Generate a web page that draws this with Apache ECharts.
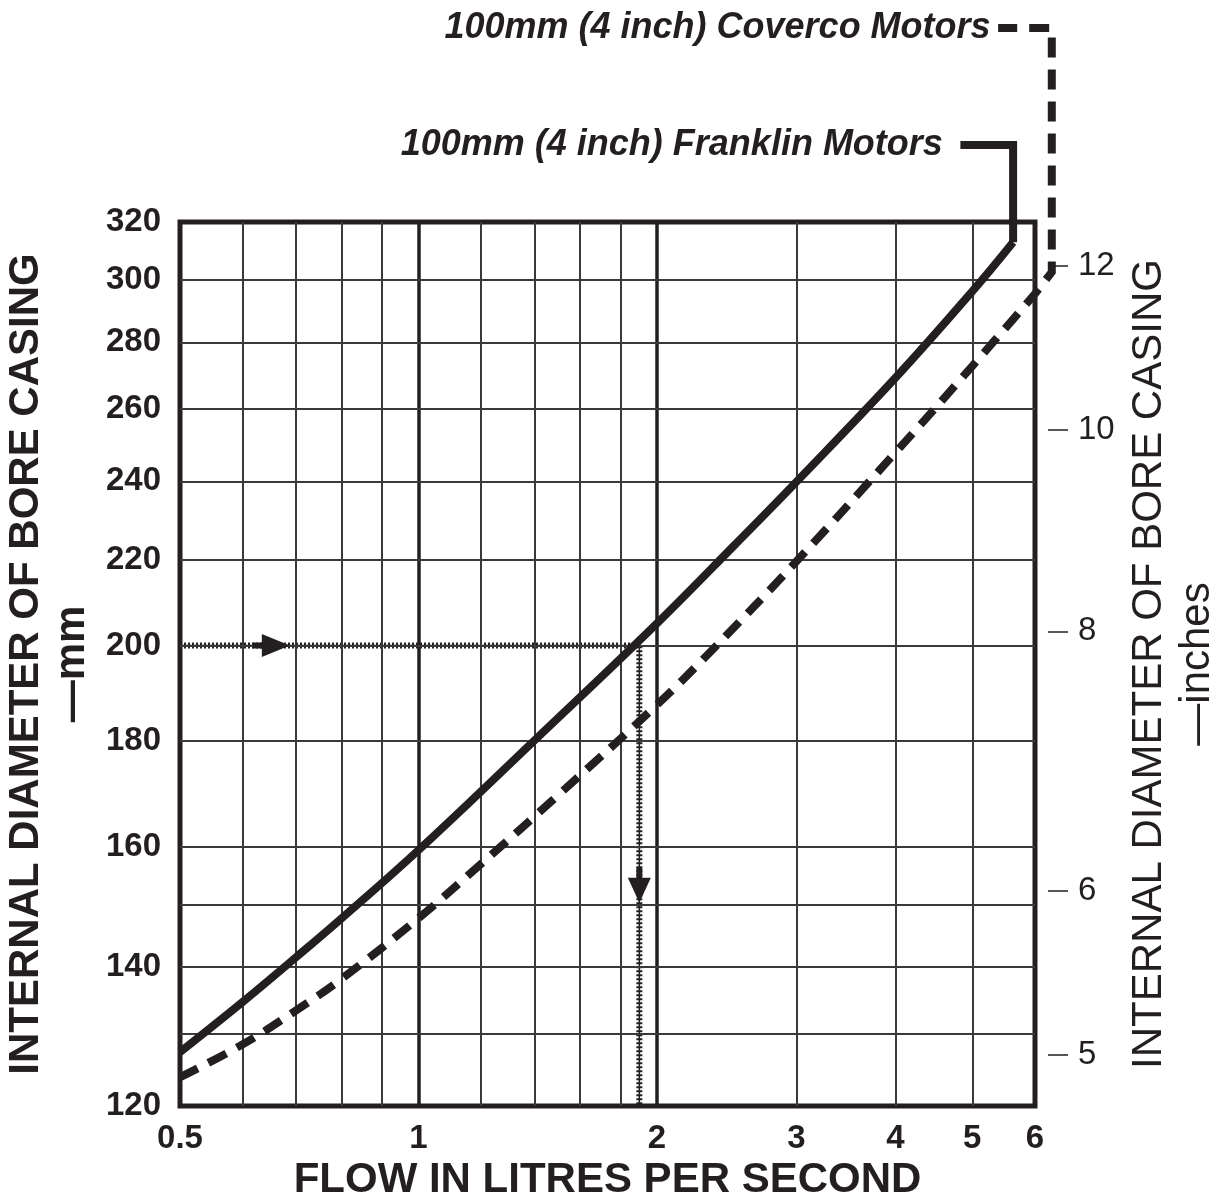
<!DOCTYPE html>
<html><head><meta charset="utf-8">
<script src="https://cdn.jsdelivr.net/npm/echarts@6/dist/echarts.min.js"></script>
<style>html,body{margin:0;padding:0;background:#fff}#c{width:1212px;height:1200px}</style>
</head><body><div id="c"></div>
<script>
// ---- data ----
const flowTicks = [0.5, 1, 2, 3, 4, 5, 6];
const mmTicks = [120, 140, 160, 180, 200, 220, 240, 260, 280, 300, 320];
const inchTicks = [5, 6, 8, 10, 12];
const flowGrid = [0.6, 0.7, 0.8, 0.9, 1, 1.2, 1.4, 1.6, 1.8, 2, 3, 4, 5];
const flowGridMajor = [1, 2];
const mmGrid = [130, 140, 150, 160, 180, 200, 220, 240, 260, 280, 300];

const franklinFlow = [0.5, 0.6, 0.7, 0.8, 1.0, 1.4, 2.0, 2.5, 3.0, 4.0, 5.0, 5.63];
const franklinMm   = [127.4, 134.7, 141.5, 147.8, 159.4, 180, 205, 223.4, 239.9, 269.2, 296.3, 312.9];

const covercoFlow = [0.5, 0.6, 0.7, 0.8, 1.0, 1.2, 1.5, 2.0, 2.35, 3.0, 4.0, 5.0, 6.0];
const covercoMm   = [123.9, 128.5, 133.4, 138.2, 147.8, 157.0, 169.4, 187.3, 199.1, 219.6, 247.8, 272.7, 295.5];

// leader lines from curve ends to the captions (flow, mm)
const franklinLeader = [[5.63, 312.9], [5.63, 348.5], [4.83, 348.5]];
const covercoLeader  = [[6.0, 295.5], [6.3, 302.7], [6.3, 396.8], [5.39, 396.8]];
const franklinLabel = '100mm (4 inch) Franklin Motors';
const covercoLabel  = '100mm (4 inch) Coverco Motors';

const exampleGuide = [[0.5, 200], [1.9, 200], [1.9, 120]];
const arrowRight = [0.652, 200];
const arrowDown  = [1.9, 153.3];

const MM_PER_INCH = 25.4;
// ---- chart ----
const INK = '#231f20';
const FONT = '"Liberation Sans", Arial, Helvetica, sans-serif';
const zip = (a, b) => a.map((v, i) => [v, b[i]]);

const chart = echarts.init(document.getElementById('c'), null, {renderer: 'canvas'});

const gridLines = [
  ...flowGrid.map(v => ({xAxis: v, lineStyle: {width: flowGridMajor.includes(v) ? 3.5 : 2, color: flowGridMajor.includes(v) ? INK : '#3a3a3a'}})),
  ...mmGrid.map(v => ({yAxis: v}))
];

chart.setOption({
  animation: false,
  backgroundColor: '#fff',
  textStyle: {fontFamily: FONT, color: INK},
  grid: {
    left: 180, right: 177, top: 222, bottom: 94,
    containLabel: false, outerBoundsMode: 'none',
    show: true, borderColor: INK, borderWidth: 5, backgroundColor: 'transparent', z: 3
  },
  xAxis: {
    type: 'log', min: 0.5, max: 6,
    axisLine: {show: false}, axisTick: {show: false}, splitLine: {show: false}, minorTick: {show: false},
    axisLabel: {customValues: flowTicks, margin: 16, fontSize: 33, fontWeight: 'bold', color: INK, fontFamily: FONT,
      formatter: v => String(+v.toFixed(2))},
    name: 'FLOW IN LITRES PER SECOND', nameLocation: 'middle', nameGap: 50,
    nameTextStyle: {fontSize: 42, fontWeight: 'bold', color: INK, fontFamily: FONT}
  },
  yAxis: [{
    type: 'log', min: 120, max: 320, position: 'left',
    axisLine: {show: false}, axisTick: {show: false}, splitLine: {show: false},
    axisLabel: {customValues: mmTicks, margin: 19, fontSize: 33, fontWeight: 'bold', color: INK, fontFamily: FONT,
      formatter: v => String(Math.round(v))},
    name: 'INTERNAL DIAMETER OF BORE CASING\n\u2014mm', nameLocation: 'middle', nameRotate: 90, nameGap: 82,
    nameTextStyle: {fontSize: 42, fontWeight: 'bold', color: INK, fontFamily: FONT, lineHeight: 46, align: 'center'}
  }, {
    type: 'log', min: 120 / MM_PER_INCH, max: 320 / MM_PER_INCH, position: 'right', offset: 13,
    axisLine: {show: false}, splitLine: {show: false},
    axisTick: {show: true, customValues: inchTicks, length: 20, inside: false, lineStyle: {color: INK, width: 1.5}},
    axisLabel: {customValues: inchTicks, margin: 30, fontSize: 33, color: INK, fontFamily: FONT,
      formatter: v => String(Math.round(v))},
    name: 'INTERNAL DIAMETER OF BORE CASING\n\u2014inches', nameLocation: 'middle', nameRotate: 90, nameGap: 74,
    nameTextStyle: {fontSize: 42, color: INK, fontFamily: FONT, lineHeight: 48, align: 'center'}
  }],
  series: [
    { // grid lines
      type: 'line', data: [], z: 1, silent: true, symbol: 'none',
      markLine: {silent: true, symbol: 'none', label: {show: false}, animation: false,
        lineStyle: {color: '#3a3a3a', width: 2, type: 'solid'}, data: gridLines}
    },
    { // example guide, thin core
      type: 'line', data: exampleGuide, symbol: 'none', z: 4, silent: true,
      lineStyle: {color: INK, width: 1.5, type: 'solid'}
    },
    { // example guide, dotted
      type: 'line', data: exampleGuide, symbol: 'none', z: 4, silent: true,
      lineStyle: {color: INK, width: 6, type: [2, 2], cap: 'butt'}
    },
    {
      type: 'scatter', z: 5, silent: true, data: [arrowRight],
      symbol: 'path://M0,8.5 L9,8.5 L9,0 L37,11.5 L9,23 L9,14.5 L0,14.5 Z', symbolSize: [37, 23],
      itemStyle: {color: INK, opacity: 1}
    },
    {
      type: 'scatter', z: 5, silent: true, data: [arrowDown],
      symbol: 'path://M8.5,0 L14.5,0 L14.5,10 L23,10 L11.5,35 L0,10 L8.5,10 Z', symbolSize: [23, 35],
      itemStyle: {color: INK, opacity: 1}
    },
    {
      name: franklinLabel, type: 'line', data: zip(franklinFlow, franklinMm), smooth: 0.4,
      symbol: 'none', z: 6, clip: false,
      lineStyle: {color: INK, width: 8, join: 'miter'}
    },
    {
      name: covercoLabel, type: 'line', data: zip(covercoFlow, covercoMm), smooth: 0.4,
      symbol: 'none', z: 6, clip: false,
      lineStyle: {color: INK, width: 8, type: [20, 12], cap: 'butt'}
    },
    {
      type: 'lines', coordinateSystem: 'cartesian2d', polyline: true, clip: false, z: 6, silent: true,
      data: [
        {coords: franklinLeader, lineStyle: {type: 'solid'}},
        {coords: covercoLeader, lineStyle: {type: [20, 12], dashOffset: 14}}
      ],
      lineStyle: {color: INK, width: 8, cap: 'butt', join: 'miter', opacity: 1, curveness: 0}
    },
    {
      type: 'scatter', z: 7, silent: true, clip: false,
      symbol: 'circle', symbolSize: 1, itemStyle: {color: 'rgba(0,0,0,0)', opacity: 1},
      data: [
        {value: franklinLeader[franklinLeader.length - 1], label: {show: true, position: 'left', distance: 17, formatter: franklinLabel}},
        {value: covercoLeader[covercoLeader.length - 1], label: {show: true, position: 'left', distance: 7, formatter: covercoLabel}}
      ],
      label: {fontSize: 36, fontWeight: 'bold', fontStyle: 'italic', color: INK, fontFamily: FONT, opacity: 1}
    }
  ]
});
</script></body></html>
